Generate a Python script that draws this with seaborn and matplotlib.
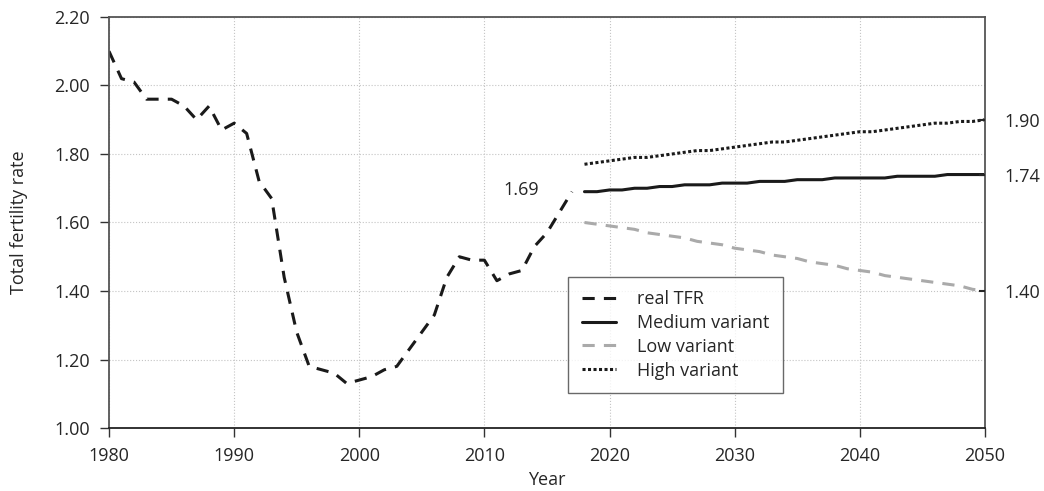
import matplotlib
matplotlib.use("Agg")
import matplotlib.pyplot as plt
import seaborn as sns
import pandas as pd

# observed TFR 1980-2017
real_years = list(range(1980, 2018))
real_tfr = [2.10, 2.02, 2.01, 1.96, 1.96, 1.96, 1.94, 1.90, 1.94, 1.87,
            1.89, 1.86, 1.72, 1.67, 1.44, 1.28, 1.18, 1.17, 1.16, 1.13,
            1.14, 1.15, 1.17, 1.18, 1.23, 1.28, 1.33, 1.44, 1.50, 1.49,
            1.49, 1.43, 1.45, 1.46, 1.53, 1.57, 1.63, 1.69]

# projections 2018-2050
proj_years = list(range(2018, 2051))
medium = [1.69, 1.69, 1.695, 1.695, 1.70, 1.70, 1.705, 1.705, 1.71, 1.71,
          1.71, 1.715, 1.715, 1.715, 1.72, 1.72, 1.72, 1.725, 1.725, 1.725,
          1.73, 1.73, 1.73, 1.73, 1.73, 1.735, 1.735, 1.735, 1.735, 1.74,
          1.74, 1.74, 1.74]
low = [1.60, 1.595, 1.59, 1.585, 1.58, 1.57, 1.565, 1.56, 1.555, 1.545,
       1.54, 1.535, 1.525, 1.52, 1.515, 1.505, 1.50, 1.495, 1.485, 1.48,
       1.475, 1.465, 1.46, 1.455, 1.445, 1.44, 1.435, 1.43, 1.425, 1.42,
       1.415, 1.405, 1.40]
high = [1.77, 1.775, 1.78, 1.785, 1.79, 1.79, 1.795, 1.80, 1.805, 1.81,
        1.81, 1.815, 1.82, 1.825, 1.83, 1.835, 1.835, 1.84, 1.845, 1.85,
        1.855, 1.86, 1.865, 1.865, 1.87, 1.875, 1.88, 1.885, 1.89, 1.89,
        1.895, 1.895, 1.90]

right_ticks = [1.40, 1.74, 1.90]

sns.set_style("white")
plt.rcParams['font.family'] = ['Open Sans', 'DejaVu Sans']
fs = 13

fig = plt.figure(figsize=(10.44, 4.91), dpi=100)
ax = fig.add_axes([0.1044, 0.1283, 0.839, 0.8371])

sns.lineplot(x=real_years, y=real_tfr, ax=ax, color='#1a1a1a', lw=2.2,
             label='real TFR').lines[-1].set_dashes((4, 3))
sns.lineplot(x=proj_years, y=medium, ax=ax, color='#1a1a1a', lw=2.2,
             label='Medium variant')
l = sns.lineplot(x=proj_years, y=low, ax=ax, color='#aaaaaa', lw=2.2,
                 label='Low variant').lines[-1]
l.set_dashes((4, 3))
h = sns.lineplot(x=proj_years, y=high, ax=ax, color='#1a1a1a', lw=2.2,
                 label='High variant').lines[-1]
h.set_dashes((1, 0.8))

ax.set_xlim(1980, 2050)
ax.set_ylim(1.0, 2.2)
ax.set_xticks(range(1980, 2051, 10))
ax.set_yticks([1.0, 1.2, 1.4, 1.6, 1.8, 2.0, 2.2])
ax.set_yticklabels([f"{v:.2f}" for v in ax.get_yticks()])
ax.grid(True, linestyle=':', color='#c4c4c4', lw=0.8)
ax.tick_params(axis='both', direction='out', length=6.5, width=1,
               color='#333333', labelsize=fs, pad=7, left=True, bottom=True)
for s in ax.spines.values():
    s.set_color('#555555')
    s.set_linewidth(1.3)
ax.spines['bottom'].set_color('#222222')

ax.set_xlabel('Year', fontsize=fs)
ax.set_ylabel('Total fertility rate', fontsize=fs)
ax.xaxis.set_label_coords(0.5, -0.104)
ax.yaxis.set_label_coords(-0.093, 0.5)

ax2 = ax.twinx()
ax2.set_ylim(ax.get_ylim())
ax2.set_yticks(right_ticks)
ax2.set_yticklabels([f"{v:.2f}" for v in right_ticks])
ax2.tick_params(axis='y', direction='in', length=4, width=1.5,
                labelsize=fs, pad=14, right=True)
for s in ax2.spines.values():
    s.set_visible(False)

ax.text(2014.4, 1.695, f"{real_tfr[-1]:.2f}", ha='right',
        va='center', fontsize=fs)

leg = ax.legend(loc='lower left', bbox_to_anchor=(0.524, 0.085),
                frameon=True, fancybox=False, fontsize=fs,
                handlelength=1.9, handletextpad=1.2, borderpad=0.75,
                labelspacing=0.32, borderaxespad=0)
leg.get_frame().set_edgecolor('#444444')
leg.get_frame().set_linewidth(1)

fig.savefig('out.png', dpi=100)
